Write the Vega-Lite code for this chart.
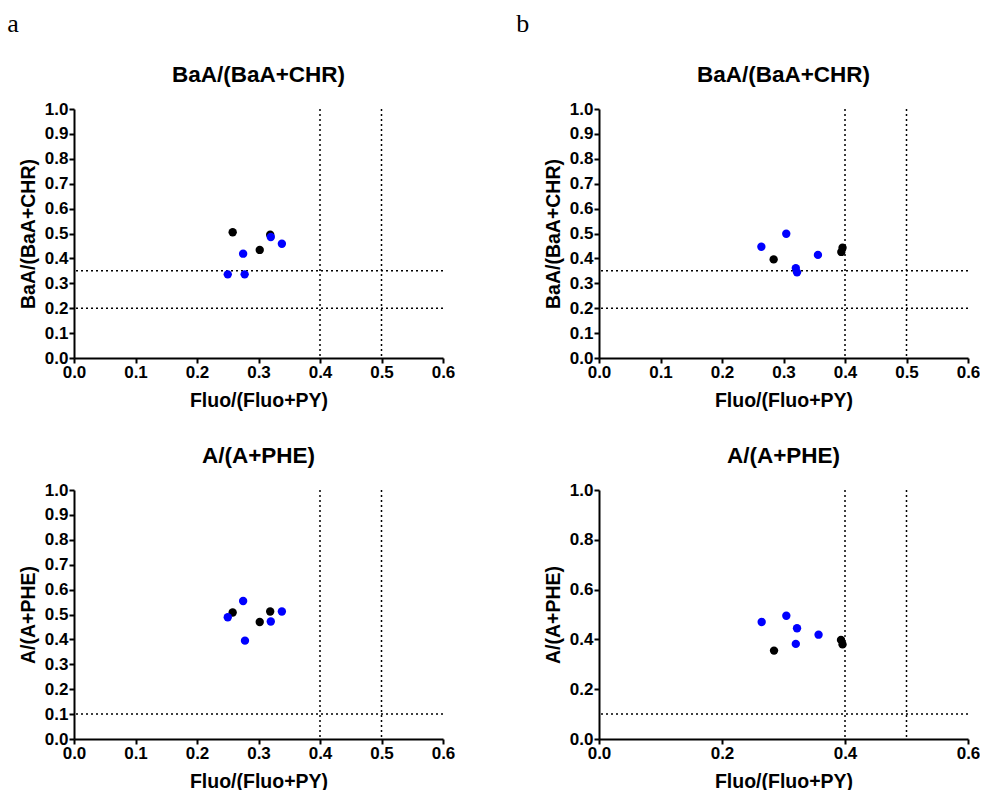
{
  "$schema": "https://vega.github.io/schema/vega-lite/v6.json",
  "background": "white",
  "padding": {"left": 7, "top": 10, "right": 0, "bottom": 0},
  "datasets": {
    "a_baa": [
      {"fluo": 0.258, "ratio": 0.505, "series": "S1"},
      {"fluo": 0.319, "ratio": 0.495, "series": "S1"},
      {"fluo": 0.302, "ratio": 0.434, "series": "S1"},
      {"fluo": 0.320, "ratio": 0.486, "series": "S2"},
      {"fluo": 0.338, "ratio": 0.459, "series": "S2"},
      {"fluo": 0.275, "ratio": 0.419, "series": "S2"},
      {"fluo": 0.250, "ratio": 0.336, "series": "S2"},
      {"fluo": 0.2775, "ratio": 0.336, "series": "S2"}
    ],
    "a_a": [
      {"fluo": 0.258, "ratio": 0.508, "series": "S1"},
      {"fluo": 0.302, "ratio": 0.470, "series": "S1"},
      {"fluo": 0.319, "ratio": 0.512, "series": "S1"},
      {"fluo": 0.250, "ratio": 0.489, "series": "S2"},
      {"fluo": 0.275, "ratio": 0.554, "series": "S2"},
      {"fluo": 0.278, "ratio": 0.395, "series": "S2"},
      {"fluo": 0.320, "ratio": 0.472, "series": "S2"},
      {"fluo": 0.338, "ratio": 0.512, "series": "S2"}
    ],
    "b_baa": [
      {"fluo": 0.284, "ratio": 0.396, "series": "S1"},
      {"fluo": 0.396, "ratio": 0.443, "series": "S1"},
      {"fluo": 0.394, "ratio": 0.426, "series": "S1"},
      {"fluo": 0.264, "ratio": 0.447, "series": "S2"},
      {"fluo": 0.3045, "ratio": 0.499, "series": "S2"},
      {"fluo": 0.320, "ratio": 0.361, "series": "S2"},
      {"fluo": 0.322, "ratio": 0.344, "series": "S2"},
      {"fluo": 0.356, "ratio": 0.414, "series": "S2"}
    ],
    "b_a": [
      {"fluo": 0.2846, "ratio": 0.355, "series": "S1"},
      {"fluo": 0.3935, "ratio": 0.398, "series": "S1"},
      {"fluo": 0.396, "ratio": 0.380, "series": "S1"},
      {"fluo": 0.2645, "ratio": 0.470, "series": "S2"},
      {"fluo": 0.3046, "ratio": 0.495, "series": "S2"},
      {"fluo": 0.322, "ratio": 0.445, "series": "S2"},
      {"fluo": 0.320, "ratio": 0.382, "series": "S2"},
      {"fluo": 0.357, "ratio": 0.419, "series": "S2"}
    ],
    "vlines": [{"fluo": 0.4}, {"fluo": 0.5}],
    "hlines_baa": [{"ratio": 0.35}, {"ratio": 0.2}],
    "hlines_a": [{"ratio": 0.1}]
  },
  "config": {
    "view": {"stroke": null},
    "axis": {
      "grid": false,
      "domainColor": "#000000",
      "domainWidth": 2,
      "tickColor": "#000000",
      "tickWidth": 2,
      "tickSize": 5,
      "labelFont": "Liberation Sans",
      "labelFontSize": 17,
      "labelFontWeight": "bold",
      "labelColor": "#000000",
      "labelPadding": 1,
      "labelFlush": false,
      "labelOverlap": false,
      "titleFont": "Liberation Sans",
      "titleFontSize": 19.5,
      "titleFontWeight": "bold",
      "titleColor": "#000000"
    },
    "axisX": {"titlePadding": 11},
    "axisY": {"titlePadding": 6},
    "title": {
      "font": "Liberation Sans",
      "fontSize": 22.5,
      "fontWeight": "bold",
      "color": "#000000",
      "frame": "group",
      "offset": 14
    }
  },
  "hconcat": [
    {
      "title": {"text": "a", "anchor": "start", "frame": "bounds", "font": "Liberation Serif", "fontWeight": "normal", "fontSize": 26, "offset": 27, "dx": -11},
      "spacing": 132,
      "bounds": "flush",
      "vconcat": [
        {
          "width": 369, "height": 249,
          "title": {"text": "BaA/(BaA+CHR)"},
          "layer": [
            {"data": {"name": "vlines"}, "mark": {"type": "rule", "color": "#000000", "strokeWidth": 1.5, "strokeDash": [2, 3]},
             "encoding": {"x": {"field": "fluo", "type": "quantitative", "scale": {"domain": [0, 0.6], "nice": false}, "axis": {"values": [0, 0.1, 0.2, 0.3, 0.4, 0.5, 0.6], "format": ".1f"}, "title": "Fluo/(Fluo+PY)"}}},
            {"data": {"name": "hlines_baa"}, "mark": {"type": "rule", "color": "#000000", "strokeWidth": 1.5, "strokeDash": [2, 3]},
             "encoding": {"y": {"field": "ratio", "type": "quantitative", "scale": {"domain": [0, 1], "nice": false}, "axis": {"values": [0, 0.1, 0.2, 0.3, 0.4, 0.5, 0.6, 0.7, 0.8, 0.9, 1.0], "format": ".1f"}, "title": "BaA/(BaA+CHR)"}}},
            {"data": {"name": "a_baa"}, "mark": {"type": "circle", "size": 70, "opacity": 1},
             "encoding": {
               "x": {"field": "fluo", "type": "quantitative", "scale": {"domain": [0, 0.6], "nice": false}, "axis": {"values": [0, 0.1, 0.2, 0.3, 0.4, 0.5, 0.6], "format": ".1f"}, "title": "Fluo/(Fluo+PY)"},
               "y": {"field": "ratio", "type": "quantitative", "scale": {"domain": [0, 1], "nice": false}, "axis": {"values": [0, 0.1, 0.2, 0.3, 0.4, 0.5, 0.6, 0.7, 0.8, 0.9, 1.0], "format": ".1f"}, "title": "BaA/(BaA+CHR)"},
               "color": {"field": "series", "type": "nominal", "scale": {"domain": ["S1", "S2"], "range": ["#000000", "#0000ff"]}, "legend": null}
             }}
          ]
        },
        {
          "width": 369, "height": 249,
          "title": {"text": "A/(A+PHE)"},
          "layer": [
            {"data": {"name": "vlines"}, "mark": {"type": "rule", "color": "#000000", "strokeWidth": 1.5, "strokeDash": [2, 3]},
             "encoding": {"x": {"field": "fluo", "type": "quantitative", "scale": {"domain": [0, 0.6], "nice": false}, "axis": {"values": [0, 0.1, 0.2, 0.3, 0.4, 0.5, 0.6], "format": ".1f"}, "title": "Fluo/(Fluo+PY)"}}},
            {"data": {"name": "hlines_a"}, "mark": {"type": "rule", "color": "#000000", "strokeWidth": 1.5, "strokeDash": [2, 3]},
             "encoding": {"y": {"field": "ratio", "type": "quantitative", "scale": {"domain": [0, 1], "nice": false}, "axis": {"values": [0, 0.1, 0.2, 0.3, 0.4, 0.5, 0.6, 0.7, 0.8, 0.9, 1.0], "format": ".1f"}, "title": "A/(A+PHE)"}}},
            {"data": {"name": "a_a"}, "mark": {"type": "circle", "size": 70, "opacity": 1},
             "encoding": {
               "x": {"field": "fluo", "type": "quantitative", "scale": {"domain": [0, 0.6], "nice": false}, "axis": {"values": [0, 0.1, 0.2, 0.3, 0.4, 0.5, 0.6], "format": ".1f"}, "title": "Fluo/(Fluo+PY)"},
               "y": {"field": "ratio", "type": "quantitative", "scale": {"domain": [0, 1], "nice": false}, "axis": {"values": [0, 0.1, 0.2, 0.3, 0.4, 0.5, 0.6, 0.7, 0.8, 0.9, 1.0], "format": ".1f"}, "title": "A/(A+PHE)"},
               "color": {"field": "series", "type": "nominal", "scale": {"domain": ["S1", "S2"], "range": ["#000000", "#0000ff"]}, "legend": null}
             }}
          ]
        }
      ]
    },
    {
      "title": {"text": "b", "anchor": "start", "frame": "bounds", "font": "Liberation Serif", "fontWeight": "normal", "fontSize": 26, "offset": 27, "dx": -27},
      "spacing": 132,
      "bounds": "flush",
      "vconcat": [
        {
          "width": 369, "height": 249,
          "title": {"text": "BaA/(BaA+CHR)"},
          "layer": [
            {"data": {"name": "vlines"}, "mark": {"type": "rule", "color": "#000000", "strokeWidth": 1.5, "strokeDash": [2, 3]},
             "encoding": {"x": {"field": "fluo", "type": "quantitative", "scale": {"domain": [0, 0.6], "nice": false}, "axis": {"values": [0, 0.1, 0.2, 0.3, 0.4, 0.5, 0.6], "format": ".1f"}, "title": "Fluo/(Fluo+PY)"}}},
            {"data": {"name": "hlines_baa"}, "mark": {"type": "rule", "color": "#000000", "strokeWidth": 1.5, "strokeDash": [2, 3]},
             "encoding": {"y": {"field": "ratio", "type": "quantitative", "scale": {"domain": [0, 1], "nice": false}, "axis": {"values": [0, 0.1, 0.2, 0.3, 0.4, 0.5, 0.6, 0.7, 0.8, 0.9, 1.0], "format": ".1f"}, "title": "BaA/(BaA+CHR)"}}},
            {"data": {"name": "b_baa"}, "mark": {"type": "circle", "size": 70, "opacity": 1},
             "encoding": {
               "x": {"field": "fluo", "type": "quantitative", "scale": {"domain": [0, 0.6], "nice": false}, "axis": {"values": [0, 0.1, 0.2, 0.3, 0.4, 0.5, 0.6], "format": ".1f"}, "title": "Fluo/(Fluo+PY)"},
               "y": {"field": "ratio", "type": "quantitative", "scale": {"domain": [0, 1], "nice": false}, "axis": {"values": [0, 0.1, 0.2, 0.3, 0.4, 0.5, 0.6, 0.7, 0.8, 0.9, 1.0], "format": ".1f"}, "title": "BaA/(BaA+CHR)"},
               "color": {"field": "series", "type": "nominal", "scale": {"domain": ["S1", "S2"], "range": ["#000000", "#0000ff"]}, "legend": null}
             }}
          ]
        },
        {
          "width": 369, "height": 249,
          "title": {"text": "A/(A+PHE)"},
          "layer": [
            {"data": {"name": "vlines"}, "mark": {"type": "rule", "color": "#000000", "strokeWidth": 1.5, "strokeDash": [2, 3]},
             "encoding": {"x": {"field": "fluo", "type": "quantitative", "scale": {"domain": [0, 0.6], "nice": false}, "axis": {"values": [0, 0.2, 0.4, 0.6], "format": ".1f"}, "title": "Fluo/(Fluo+PY)"}}},
            {"data": {"name": "hlines_a"}, "mark": {"type": "rule", "color": "#000000", "strokeWidth": 1.5, "strokeDash": [2, 3]},
             "encoding": {"y": {"field": "ratio", "type": "quantitative", "scale": {"domain": [0, 1], "nice": false}, "axis": {"values": [0, 0.2, 0.4, 0.6, 0.8, 1.0], "format": ".1f"}, "title": "A/(A+PHE)"}}},
            {"data": {"name": "b_a"}, "mark": {"type": "circle", "size": 70, "opacity": 1},
             "encoding": {
               "x": {"field": "fluo", "type": "quantitative", "scale": {"domain": [0, 0.6], "nice": false}, "axis": {"values": [0, 0.2, 0.4, 0.6], "format": ".1f"}, "title": "Fluo/(Fluo+PY)"},
               "y": {"field": "ratio", "type": "quantitative", "scale": {"domain": [0, 1], "nice": false}, "axis": {"values": [0, 0.2, 0.4, 0.6, 0.8, 1.0], "format": ".1f"}, "title": "A/(A+PHE)"},
               "color": {"field": "series", "type": "nominal", "scale": {"domain": ["S1", "S2"], "range": ["#000000", "#0000ff"]}, "legend": null}
             }}
          ]
        }
      ]
    }
  ],
  "spacing": 61
}
